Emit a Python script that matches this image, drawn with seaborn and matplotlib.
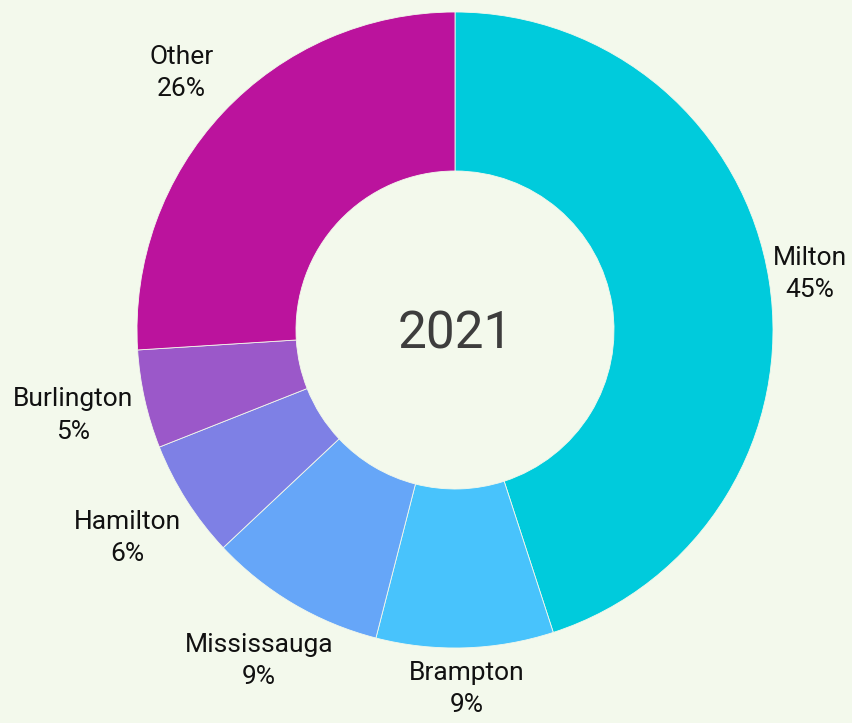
import numpy as np
import seaborn as sns
import matplotlib.pyplot as plt

cities = ['Milton', 'Brampton', 'Mississauga', 'Hamilton', 'Burlington', 'Other']
shares = [45, 9, 9, 6, 5, 26]
colors = ['#00CBDC', '#48C3FC', '#66A6F8', '#7E80E5', '#9B58C9', '#BB139D']
year = '2021'

bg = '#F3F9EC'
sns.set_theme(style='white', rc={'figure.facecolor': bg, 'axes.facecolor': bg})
plt.rcParams['font.family'] = ['Roboto', 'DejaVu Sans']

fig = plt.figure(figsize=(8.52, 7.23), dpi=100)
ax = fig.add_axes([0, 0, 1, 1])

labels = [f'{c}\n{s}%' for c, s in zip(cities, shares)]
wedges, texts = ax.pie(shares, labels=labels, colors=sns.color_palette(colors),
                       startangle=90, counterclock=False, radius=1.0,
                       labeldistance=1.18,
                       wedgeprops=dict(width=0.5, edgecolor=bg, linewidth=0.6),
                       textprops=dict(fontsize=19, color='#111111', linespacing=1.45))

# label distance from centre, per slice (layout only)
label_dist = [1.13, 1.13, 1.21, 1.22, 1.23, 1.18]
for w, t, d in zip(wedges, texts, label_dist):
    mid = np.deg2rad((w.theta1 + w.theta2) / 2)
    t.set_position((d * np.cos(mid), d * np.sin(mid)))
    t.set_ha('center')
    t.set_va('center')

ax.text(0, -0.015, year, ha='center', va='center', fontsize=37, color='#3d3d3d')

# map pie units to pixels (radius ~318px, centre at 455,330)
ax.set_xlim(-455 / 318, (852 - 455) / 318)
ax.set_ylim(-(723 - 330) / 318, 330 / 318)
ax.set_aspect('auto')
ax.axis('off')

fig.savefig('out.png', dpi=100, facecolor=bg)
